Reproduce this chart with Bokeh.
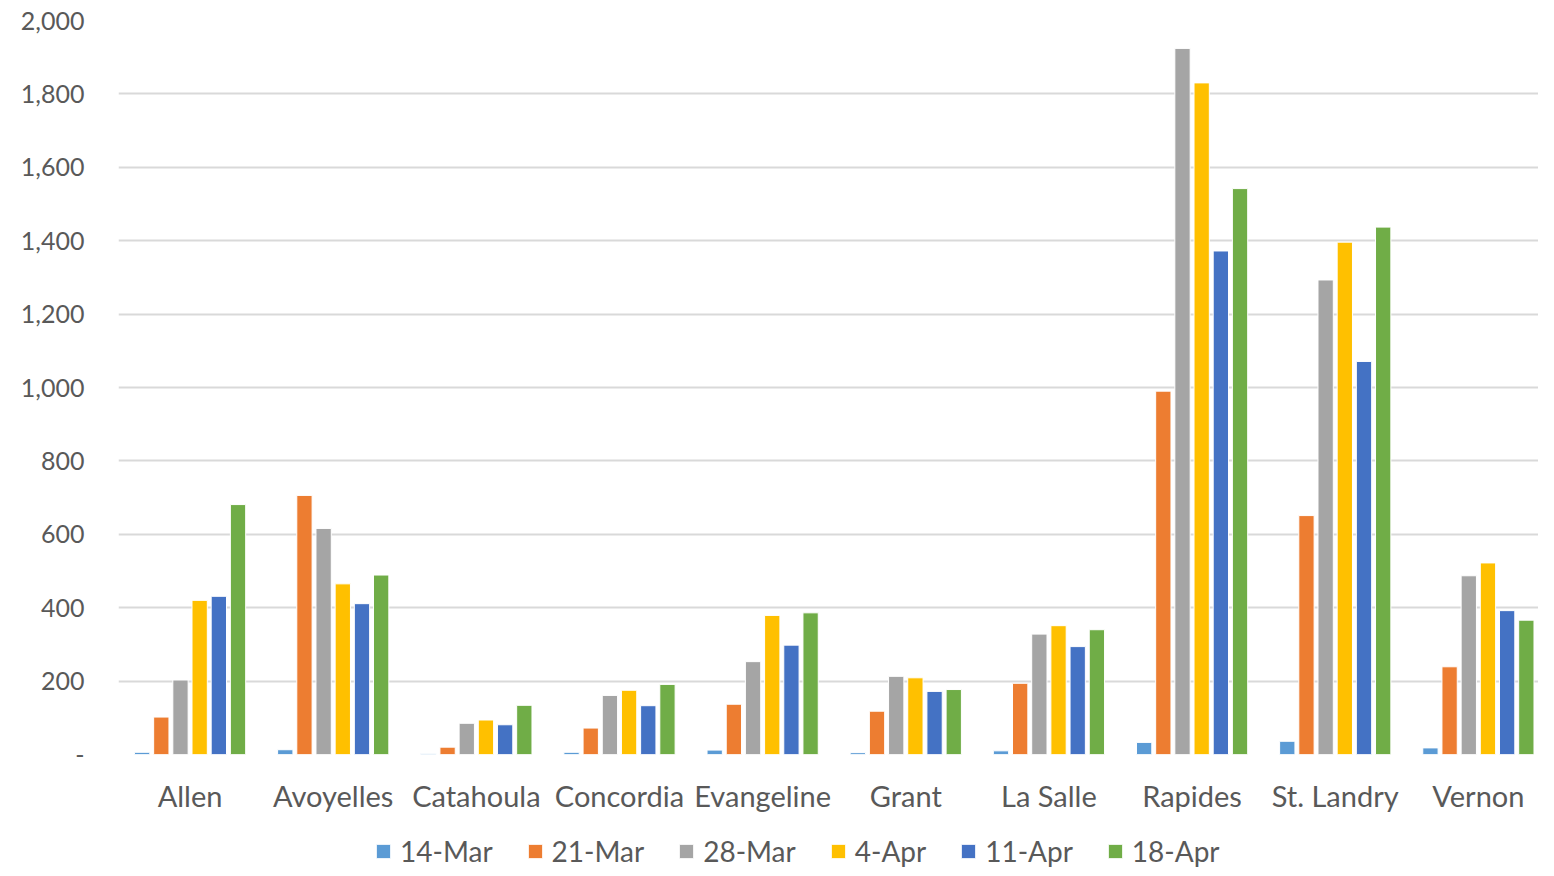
from bokeh.plotting import figure
from bokeh.layouts import column
from bokeh.models import ColumnDataSource, Range1d, Legend, LegendItem, NumeralTickFormatter, FixedTicker
from bokeh.transform import dodge
from bokeh.embed import file_html
from bokeh.resources import INLINE

parishes = ["Allen", "Avoyelles", "Catahoula", "Concordia", "Evangeline",
            "Grant", "La Salle", "Rapides", "St. Landry", "Vernon"]
weeks = ["14-Mar", "21-Mar", "28-Mar", "4-Apr", "11-Apr", "18-Apr"]

mar14 = [6, 13, 3, 6, 12, 5, 10, 33, 36, 18]
mar21 = [102, 706, 20, 72, 137, 118, 194, 990, 651, 239]
mar28 = [203, 616, 85, 161, 253, 213, 328, 1924, 1293, 487]
apr4 = [420, 465, 94, 175, 379, 209, 351, 1830, 1396, 522]
apr11 = [431, 411, 81, 133, 298, 172, 294, 1372, 1071, 392]
apr18 = [681, 489, 134, 191, 386, 177, 340, 1542, 1437, 366]

colors = ["#5B9BD5", "#ED7D31", "#A5A5A5", "#FFC000", "#4472C4", "#70AD47"]

idx = list(range(len(parishes)))
data = {"parish": parishes, "idx": idx}
series = [mar14, mar21, mar28, apr4, apr11, apr18]
keys = ["w0", "w1", "w2", "w3", "w4", "w5"]
for k, s in zip(keys, series):
    data[k] = s
source = ColumnDataSource(data)

FONT = "Lato"
TXT = "#595959"

p = figure(x_range=Range1d(-0.5, 9.42),
           y_range=Range1d(0, 2000),
           width=1538, height=815, output_backend="svg", toolbar_location=None,
           min_border_left=118, min_border_right=0, min_border_top=20,
           min_border_bottom=58)
p.outline_line_color = None
p.background_fill_color = "white"
p.border_fill_color = "white"

slot = 0.134
for i, (k, c) in enumerate(zip(keys, colors)):
    p.vbar(x=dodge("idx", (i - 2.5) * slot), top=k,
           width=0.107, source=source, fill_color=c, line_color="white",
           line_width=1)

p.xgrid.grid_line_color = None
p.ygrid.grid_line_color = "#D9D9D9"
p.ygrid.grid_line_width = 2
p.yaxis.ticker = FixedTicker(ticks=list(range(0, 2001, 200)))
p.yaxis.formatter = NumeralTickFormatter(format="0,0")
p.yaxis.major_label_overrides = {0: "-"}
p.xaxis.ticker = FixedTicker(ticks=idx)
p.xaxis.major_label_overrides = {i: name for i, name in zip(idx, parishes)}

for ax in (p.xaxis[0], p.yaxis[0]):
    ax.axis_line_color = None
    ax.major_tick_line_color = None
    ax.minor_tick_line_color = None
    ax.major_label_text_color = TXT
    ax.major_label_text_font = FONT

p.yaxis.major_label_text_font_size = "25px"
p.yaxis.major_label_standoff = 28
p.xaxis.major_label_text_font_size = "29px"
p.xaxis.major_label_standoff = 17

# legend strip below the chart
pl = figure(width=1538, height=53, x_range=Range1d(0, 1), y_range=Range1d(0, 1),
            output_backend="svg", toolbar_location=None,
            min_border_left=0, min_border_right=0, min_border_top=0, min_border_bottom=0)
pl.outline_line_color = None
pl.xaxis.visible = False
pl.yaxis.visible = False
pl.grid.grid_line_color = None
pl.border_fill_color = "white"
leg_renderers = []
for c in colors:
    leg_renderers.append(pl.vbar(x=[-10], top=[0], width=0.1, fill_color=c,
                                 line_color="white", line_width=1))

legend = Legend(items=[LegendItem(label=w, renderers=[r]) for w, r in zip(weeks, leg_renderers)],
                orientation="horizontal", location=(256, 0))
legend.label_text_font = FONT
legend.label_text_font_size = "28px"
legend.label_text_color = TXT
legend.glyph_width = 18
legend.glyph_height = 18
legend.label_standoff = 8
legend.spacing = 33
legend.border_line_color = None
legend.background_fill_alpha = 0
legend.padding = 0
legend.margin = 0
pl.add_layout(legend, "center")

layout = column(p, pl, spacing=0)
open("out.html", "w").write(file_html(layout, INLINE))
